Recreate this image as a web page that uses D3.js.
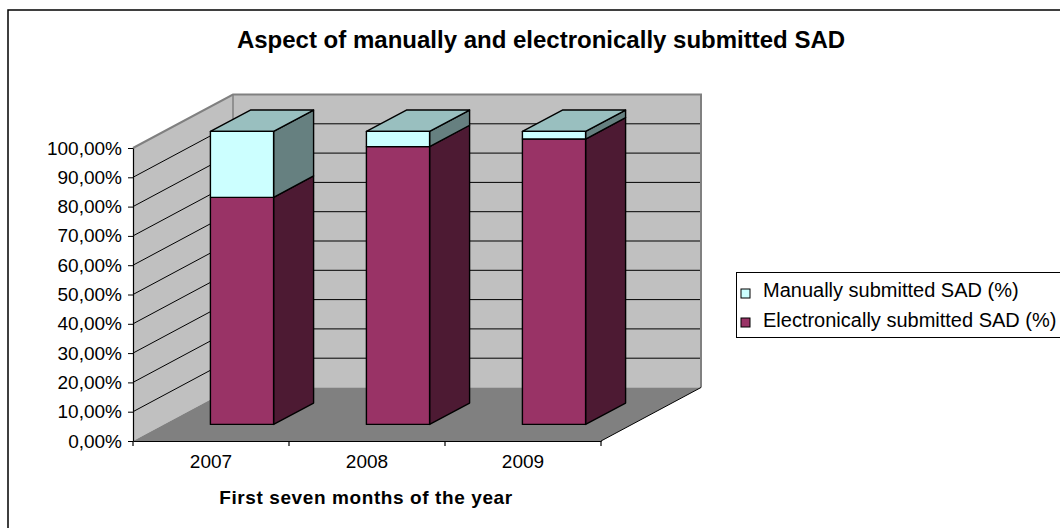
<!DOCTYPE html>
<html><head><meta charset="utf-8">
<script src="https://cdn.jsdelivr.net/npm/d3@7"></script>
<style>
body{margin:0;background:#fff}
svg{display:block}
text{font-family:"Liberation Sans",Arial,sans-serif;fill:#000}
</style>
</head><body>
<svg id="c" width="1060" height="528"></svg>
<script>
// ---- data ----
const categories = ["2007", "2008", "2009"];
const electronic = [0.775, 0.948, 0.974];
const manual = [0.225, 0.052, 0.026];
const seriesNames = ["Manually submitted SAD (%)", "Electronically submitted SAD (%)"];
const yTicks = [0, 0.1, 0.2, 0.3, 0.4, 0.5, 0.6, 0.7, 0.8, 0.9, 1.0];
const chartTitle = "Aspect of manually and electronically submitted SAD";
const xTitle = "First seven months of the year";

// ---- layout ----
const svg = d3.select("#c");
const DX = 100, DY = 53.5;          // 3D depth offset
const D0 = 0.31, D1 = 0.71;         // bar depth range
const x = d3.scaleBand().domain(categories).range([133, 601]).padding(0);
const y = d3.scaleLinear().domain([0, 1]).range([441, 148]);
const P = (px, py, d) => [px + d * DX, py - d * DY];
const poly = pts => pts.map(p => p.join(",")).join(" ");
const x0 = x.range()[0], x1 = x.range()[1];

const loc = d3.formatLocale({decimal: ",", thousands: ".", grouping: [3], currency: ["", ""]});
const fmt = loc.format(".2%");

// outer border
svg.append("rect").attr("x", 8).attr("y", 10).attr("width", 1100).attr("height", 600)
  .attr("fill", "#fff").attr("stroke", "#000").attr("stroke-width", 1.5);

// title
svg.append("text").attr("x", 541).attr("y", 48).attr("text-anchor", "middle")
  .attr("font-size", 24).attr("font-weight", "bold").text(chartTitle);

// walls
svg.append("polygon").attr("points", poly([P(x0, y(1), 1), P(x1, y(1), 1), P(x1, y(0), 1), P(x0, y(0), 1)]))
  .attr("fill", "#c0c0c0");
svg.append("polygon").attr("points", poly([P(x0, y(1), 0), P(x0, y(1), 1), P(x0, y(0), 1), P(x0, y(0), 0)]))
  .attr("fill", "#c0c0c0");
svg.append("polygon").attr("points", poly([P(x0, y(0), 0), P(x1, y(0), 0), P(x1, y(0), 1), P(x0, y(0), 1)]))
  .attr("fill", "#808080");

// gridlines
yTicks.filter(v => v > 0 && v < 1).forEach(v => {
  svg.append("polyline").attr("points", poly([P(x0, y(v), 0), P(x0, y(v), 1), P(x1, y(v), 1)]))
    .attr("fill", "none").attr("stroke", "#000").attr("stroke-width", 1);
});
// wall edges (gray)
svg.append("polyline").attr("points", poly([P(x0, y(1), 0), P(x0, y(1), 1), P(x1, y(1), 1), P(x1, y(0), 1)]))
  .attr("fill", "none").attr("stroke", "#808080").attr("stroke-width", 2);
svg.append("line").attr("x1", P(x0, y(1), 1)[0]).attr("y1", P(x0, y(1), 1)[1])
  .attr("x2", P(x0, y(0), 1)[0]).attr("y2", P(x0, y(0), 1)[1])
  .attr("stroke", "#808080").attr("stroke-width", 1.5);
// floor right edge
svg.append("line").attr("x1", P(x1, y(0), 0)[0]).attr("y1", P(x1, y(0), 0)[1])
  .attr("x2", P(x1, y(0), 1)[0]).attr("y2", P(x1, y(0), 1)[1])
  .attr("stroke", "#000").attr("stroke-width", 1);

// bars
const series = [
  {vals: electronic, front: "#993366", side: "#4d1a33", top: "#734d59"},
  {vals: manual, front: "#ccffff", side: "#668080", top: "#99bfbf"}
];
const bw = x.bandwidth() * 0.405;
categories.forEach((c, i) => {
  const cx = x(c) + x.bandwidth() / 2;
  let base = 0;
  series.forEach((s, si) => {
    const v = s.vals[i];
    const b = base, t = base + v;
    base = t;
    const L = cx - bw / 2, R = cx + bw / 2;
    const g = svg.append("g").attr("stroke", "#000").attr("stroke-width", 1.4).attr("stroke-linejoin", "round");
    g.append("polygon").attr("fill", s.side)
      .attr("points", poly([P(R, y(t), D0), P(R, y(t), D1), P(R, y(b), D1), P(R, y(b), D0)]));
    if (si === series.length - 1) {
      g.append("polygon").attr("fill", s.top)
        .attr("points", poly([P(L, y(t), D0), P(L, y(t), D1), P(R, y(t), D1), P(R, y(t), D0)]));
    }
    g.append("polygon").attr("fill", s.front)
      .attr("points", poly([P(L, y(t), D0), P(R, y(t), D0), P(R, y(b), D0), P(L, y(b), D0)]));
  });
});

// y axis
const yAxis = svg.append("g").attr("transform", `translate(${x0},0)`)
  .call(d3.axisLeft(y).tickValues(yTicks).tickFormat(fmt).tickSize(5).tickSizeOuter(0).tickPadding(6));
yAxis.selectAll("text").attr("font-size", 19).attr("font-family", '"Liberation Sans",Arial,sans-serif');
yAxis.select(".domain").attr("stroke-width", 1.2);

// x axis
const xAxis = svg.append("g").attr("transform", `translate(0,${y(0)})`)
  .call(d3.axisBottom(x).tickSize(0).tickPadding(14).tickSizeOuter(0));
xAxis.selectAll("text").attr("font-size", 19).attr("font-family", '"Liberation Sans",Arial,sans-serif');
xAxis.select(".domain").attr("stroke-width", 1.2);
const bounds = categories.map(c => x(c)).concat([x1]);
xAxis.selectAll(".btick").data(bounds).enter().append("line")
  .attr("x1", d => d).attr("x2", d => d).attr("y1", 0).attr("y2", 5)
  .attr("stroke", "#000").attr("stroke-width", 1.2);

// x title
svg.append("text").attr("x", 366).attr("y", 504).attr("text-anchor", "middle")
  .attr("font-size", 19).attr("font-weight", "bold").attr("letter-spacing", 0.6).text(xTitle);

// legend
const lg = svg.append("g");
lg.append("rect").attr("x", 736.5).attr("y", 272.5).attr("width", 400).attr("height", 65)
  .attr("fill", "#fff").attr("stroke", "#000").attr("stroke-width", 1);
const legendColors = [series[1].front, series[0].front];
seriesNames.forEach((n, i) => {
  const cy = 293.5 + i * 29;
  lg.append("rect").attr("x", 741).attr("y", cy - 4.5).attr("width", 9).attr("height", 9)
    .attr("fill", legendColors[i]).attr("stroke", "#000").attr("stroke-width", 1);
  lg.append("text").attr("x", 763).attr("y", 297.3 + i * 29.4).attr("font-size", 20).text(n);
});
</script>
</body></html>
